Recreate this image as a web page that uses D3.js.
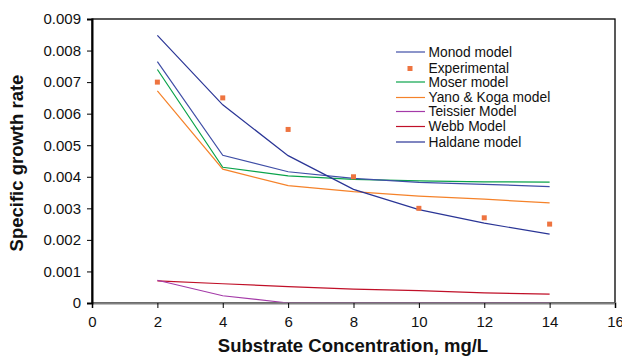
<!DOCTYPE html>
<html><head><meta charset="utf-8">
<script src="https://cdn.jsdelivr.net/npm/d3@7"></script>
<style>body{margin:0;background:#fff;}svg{display:block;font-family:Arial,"Liberation Sans",sans-serif;}</style>
</head><body><svg id="c" width="622" height="357"></svg>
<script>
const xs = [2, 4, 6, 8, 10, 12, 14];
const experimental = [0.0070, 0.0065, 0.0055, 0.0040, 0.0030, 0.0027, 0.0025];
const monod    = [0.00765, 0.00468, 0.00416, 0.00395, 0.00382, 0.00376, 0.00369];
const moser    = [0.00740, 0.00430, 0.00403, 0.00392, 0.00387, 0.00384, 0.00383];
const yanoKoga = [0.00672, 0.00424, 0.00372, 0.00353, 0.00339, 0.00329, 0.00317];
const teissier = [0.00072, 0.00023, 0.0, 0.0, 0.0, 0.0, 0.0];
const webb     = [0.00070, 0.00061, 0.00052, 0.00044, 0.00039, 0.00032, 0.00028];
const haldane  = [0.00848, 0.00628, 0.00467, 0.00360, 0.00296, 0.00253, 0.00218];
const xTicks = [0, 2, 4, 6, 8, 10, 12, 14, 16];
const yTicks = [0, 0.001, 0.002, 0.003, 0.004, 0.005, 0.006, 0.007, 0.008, 0.009];

const series = [
  {name: "Monod model", vals: monod, color: "#3f4ea6"},
  {name: "Experimental", vals: experimental, color: "#ee7440", marker: true},
  {name: "Moser model", vals: moser, color: "#0aa34a"},
  {name: "Yano & Koga model", vals: yanoKoga, color: "#f5822a"},
  {name: "Teissier Model", vals: teissier, color: "#a43aa8"},
  {name: "Webb Model", vals: webb, color: "#c01028"},
  {name: "Haldane model", vals: haldane, color: "#2a3596"}
];

const svg = d3.select("#c");
const L = 92, R = 615, T = 19, B = 303;
const x = d3.scaleLinear().domain([0, 16]).range([L, R]);
const y = d3.scaleLinear().domain([0, 0.009]).range([B, T]);
const FONT = "Arial, 'Liberation Sans', sans-serif";

// frame
svg.append("rect").attr("x", L).attr("y", T).attr("width", R - L).attr("height", B - T)
  .attr("fill", "none").attr("stroke", "#000").attr("stroke-width", 1.3);

// series lines
const line = d3.line().x((d, i) => x(xs[i])).y(d => y(d));
const drawOrder = [5, 4, 3, 2, 0, 6];
drawOrder.forEach(k => {
  const s = series[k];
  svg.append("path").attr("d", line(s.vals)).attr("fill", "none")
    .attr("stroke", s.color).attr("stroke-width", 1.2);
});

// x axis (gray)
const xAxis = svg.append("g").attr("transform", `translate(0,${B})`)
  .call(d3.axisBottom(x).tickValues(xTicks).tickFormat(d3.format("d")).tickSizeOuter(0).tickSize(5));
xAxis.select(".domain").attr("stroke", "#808080").attr("stroke-width", 2);
xAxis.selectAll(".tick line").attr("stroke", "#000").attr("stroke-width", 1);
xAxis.selectAll("text").attr("font-size", 15).attr("fill", "#111").attr("y", 24).attr("dy", 0)
  .attr("font-family", FONT);

// y axis
const yAxis = svg.append("g").attr("transform", `translate(${L},0)`)
  .call(d3.axisLeft(y).tickValues(yTicks).tickFormat(d => d === 0 ? "0" : d3.format(".3f")(d)).tickSizeOuter(0).tickSize(5));
yAxis.select(".domain").attr("stroke", "#000").attr("stroke-width", 2);
yAxis.selectAll(".tick line").attr("stroke", "#000").attr("stroke-width", 1);
yAxis.selectAll("text").attr("font-size", 15).attr("fill", "#111").attr("x", -11)
  .attr("font-family", FONT);

// experimental markers
const exp = series[1];
svg.append("g").selectAll("rect").data(exp.vals).join("rect")
  .attr("x", (d, i) => x(xs[i]) - 2.5).attr("y", d => y(d) - 2.5)
  .attr("width", 5).attr("height", 5).attr("fill", exp.color);

// axis titles
svg.append("text").attr("x", 353).attr("y", 352).attr("text-anchor", "middle")
  .attr("font-size", 18.5).attr("font-weight", "bold").attr("fill", "#111")
  .text("Substrate Concentration, mg/L");
svg.append("text").attr("transform", "translate(23,163) rotate(-90)").attr("text-anchor", "middle")
  .attr("font-size", 18.5).attr("font-weight", "bold").attr("fill", "#111")
  .text("Specific growth rate");

// legend
const legY = [52, 68.5, 82, 97.5, 111.5, 126.5, 142];
const lg = svg.append("g");
series.forEach((s, i) => {
  const yy = legY[i];
  if (s.marker) {
    lg.append("rect").attr("x", 407.5).attr("y", yy - 2.5).attr("width", 5).attr("height", 5).attr("fill", s.color);
  } else {
    lg.append("line").attr("x1", 396).attr("x2", 425).attr("y1", yy).attr("y2", yy)
      .attr("stroke", s.color).attr("stroke-width", 1.2);
  }
  lg.append("text").attr("x", 428.5).attr("y", yy + 4.8).attr("font-size", 13.8).attr("fill", "#111").text(s.name);
});
</script></body></html>
